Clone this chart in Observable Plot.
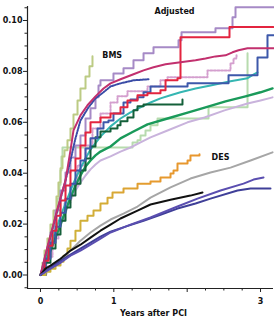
<!DOCTYPE html>
<html>
<head>
<meta charset="utf-8">
<script src="https://cdn.jsdelivr.net/npm/d3@7"></script>
<script src="https://cdn.jsdelivr.net/npm/@observablehq/plot@0.6"></script>
<style>
  html, body { margin: 0; padding: 0; background: #fff; }
  #chart svg { display: block; }
</style>
</head>
<body>
<div id="chart"></div>
<script>
// Cumulative event rate curves: [years after PCI, rate]
const olive = [[0,0],[0.027,0.0048],[0.055,0.0096],[0.095,0.0143],[0.136,0.0198],[0.177,0.0253],[0.218,0.0308],[0.245,0.0363],[0.273,0.0419],[0.30,0.0466],[0.327,0.049],[0.368,0.0529],[0.409,0.0576],[0.45,0.0631],[0.505,0.0686],[0.545,0.0733],[0.614,0.078],[0.668,0.082],[0.709,0.086]];
const lavender = [[0,0],[0.068,0.0076],[0.136,0.0167],[0.205,0.0253],[0.273,0.0332],[0.341,0.0403],[0.409,0.0462],[0.477,0.0509],[0.545,0.0548],[0.614,0.0615],[0.682,0.0655],[0.75,0.0698],[0.791,0.0745],[0.818,0.0765],[0.995,0.0792],[1.132,0.0812],[1.268,0.0844],[1.405,0.0871],[1.541,0.0895],[1.882,0.0922],[1.923,0.0954],[2.386,0.097],[2.618,0.1013],[2.659,0.1052],[3.177,0.1052]];
const red = [[0,0],[0.055,0.0056],[0.109,0.0115],[0.164,0.0174],[0.218,0.0233],[0.273,0.0293],[0.341,0.0352],[0.409,0.0411],[0.477,0.0458],[0.545,0.0509],[0.614,0.056],[0.682,0.06],[0.818,0.0619],[0.955,0.0635],[1.091,0.0659],[1.186,0.0686],[1.323,0.0706],[1.459,0.0714],[1.636,0.0726],[1.705,0.0765],[1.868,0.0773],[1.909,0.0934],[2.577,0.0974],[3.177,0.0974]];
const magenta = [[0,0],[0.055,0.0064],[0.109,0.0127],[0.164,0.0186],[0.218,0.0245],[0.273,0.0304],[0.341,0.0371],[0.409,0.049],[0.45,0.0568],[0.545,0.0627],[0.641,0.0667],[0.75,0.0702],[0.859,0.0733],[0.955,0.0753],[1.091,0.0769],[1.268,0.0789],[1.405,0.0804],[1.541,0.0816],[1.705,0.0828],[1.909,0.0836],[2.114,0.0844],[2.25,0.0851],[2.386,0.0859],[2.523,0.0863],[2.618,0.0875],[2.70,0.0883],[2.823,0.0891],[3.177,0.0891]];
const blueDotted = [[0,0],[0.068,0.0076],[0.136,0.0151],[0.205,0.0226],[0.273,0.03],[0.341,0.0371],[0.409,0.045],[0.477,0.0537],[0.545,0.0607],[0.655,0.0659],[0.75,0.0694],[0.859,0.0718],[0.955,0.0741],[1.091,0.0753],[1.268,0.0765],[1.473,0.0769]];
const pinkDotted = [[0,0],[0.082,0.0072],[0.164,0.0143],[0.245,0.0213],[0.327,0.0285],[0.409,0.0352],[0.505,0.043],[0.614,0.0509],[0.709,0.0576],[0.818,0.0635],[0.955,0.0678],[1.05,0.0702],[1.186,0.0722],[1.459,0.0741],[1.636,0.0765],[1.732,0.0777],[2.277,0.0804],[2.591,0.0832],[2.632,0.0851],[2.673,0.0863]];
const blue = [[0,0],[0.068,0.0064],[0.136,0.0127],[0.205,0.019],[0.273,0.0245],[0.341,0.03],[0.409,0.0359],[0.477,0.0411],[0.545,0.045],[0.614,0.0497],[0.682,0.0537],[0.777,0.0576],[0.859,0.06],[0.927,0.0607],[0.995,0.0635],[1.132,0.0678],[1.227,0.069],[1.323,0.0698],[1.405,0.0718],[1.50,0.0741],[2.005,0.0753],[2.564,0.0785],[2.959,0.0855],[3.095,0.0942],[3.177,0.0942]];
const cyan = [[0,0],[0.068,0.0056],[0.136,0.0115],[0.205,0.0174],[0.273,0.023],[0.341,0.0281],[0.409,0.0332],[0.477,0.0379],[0.545,0.0419],[0.614,0.0458],[0.682,0.0493],[0.818,0.0544],[0.955,0.0584],[1.091,0.0615],[1.227,0.0639],[1.364,0.0659],[1.50,0.0678],[1.636,0.0694],[1.773,0.0706],[1.909,0.0718],[2.114,0.0733],[2.318,0.0745],[2.591,0.0761],[2.823,0.0773],[2.89,0.0785],[2.959,0.0796]];
const darkGreen = [[0,0],[0.068,0.0048],[0.136,0.0104],[0.205,0.0159],[0.273,0.0213],[0.341,0.0265],[0.409,0.0312],[0.477,0.0359],[0.545,0.0411],[0.614,0.0458],[0.682,0.0505],[0.75,0.0541],[0.818,0.0564],[0.955,0.0576],[1.05,0.0588],[1.091,0.0604],[1.186,0.0619],[1.268,0.0647],[1.323,0.0663],[1.405,0.067],[1.936,0.069]];
const green = [[0,0],[0.068,0.0044],[0.136,0.0096],[0.205,0.0147],[0.273,0.0198],[0.341,0.0253],[0.409,0.0304],[0.477,0.0352],[0.545,0.0391],[0.614,0.0426],[0.682,0.045],[0.75,0.047],[0.818,0.0485],[0.955,0.0505],[1.091,0.0537],[1.268,0.0564],[1.459,0.0592],[1.732,0.0615],[2.018,0.0639],[2.25,0.0659],[2.523,0.0682],[2.795,0.0702],[3.0,0.0718],[3.164,0.0733]];
const lilac = [[0,0],[0.068,0.0048],[0.136,0.0096],[0.205,0.0143],[0.273,0.0194],[0.341,0.0245],[0.409,0.0293],[0.477,0.0332],[0.545,0.0363],[0.614,0.0391],[0.682,0.0415],[0.75,0.0434],[0.818,0.045],[0.955,0.0466],[1.091,0.0485],[1.227,0.0501],[1.364,0.0521],[1.50,0.0541],[1.732,0.0568],[2.005,0.06],[2.236,0.0619],[2.509,0.0647],[2.823,0.0674],[3.0,0.0686],[3.164,0.0698]];
const paleGreen = [[0,0],[0.041,0.0048],[0.082,0.0096],[0.123,0.0143],[0.164,0.0194],[0.205,0.0245],[0.232,0.03],[0.259,0.0355],[0.273,0.0411],[0.286,0.0466],[0.30,0.0501],[1.255,0.0521],[1.323,0.0529],[1.364,0.0548],[1.432,0.0568],[1.50,0.0588],[1.596,0.0615],[2.291,0.0659],[2.823,0.0871]];
const orange = [[0,0],[0.068,0.0013],[0.136,0.0025],[0.205,0.0037],[0.273,0.0052],[0.314,0.0076],[0.368,0.0104],[0.409,0.0135],[0.477,0.0174],[0.545,0.0213],[0.641,0.0233],[0.723,0.0253],[0.818,0.0281],[0.914,0.0304],[0.982,0.0324],[1.132,0.034],[1.323,0.0359],[1.50,0.0367],[1.636,0.0383],[1.773,0.0399],[1.814,0.0411],[1.868,0.0438],[2.005,0.045],[2.045,0.047],[2.168,0.0474]];
const gray = [[0,0],[0.136,0.0025],[0.273,0.0056],[0.409,0.0096],[0.545,0.0135],[0.682,0.0167],[0.818,0.0194],[0.955,0.0218],[1.132,0.0241],[1.323,0.0269],[1.50,0.0304],[1.773,0.0344],[2.045,0.0379],[2.318,0.0403],[2.591,0.0422],[2.864,0.045],[3.164,0.0482]];
const black = [[0,0],[0.068,0.0025],[0.136,0.0037],[0.273,0.0064],[0.409,0.0096],[0.545,0.0119],[0.682,0.0147],[0.818,0.0174],[0.955,0.0198],[1.091,0.0222],[1.323,0.0253],[1.50,0.0277],[1.773,0.0296],[2.045,0.0312],[2.209,0.0324]];
const indigoA = [[0,0],[0.136,0.0025],[0.273,0.0048],[0.409,0.0076],[0.545,0.0096],[0.682,0.0119],[0.818,0.0143],[0.955,0.0167],[1.091,0.0182],[1.227,0.0198],[1.50,0.0226],[1.868,0.0269],[2.141,0.03],[2.455,0.0332],[2.768,0.0359],[2.905,0.0375],[3.041,0.0383]];
const indigoB = [[0,0],[0.136,0.0029],[0.273,0.0056],[0.409,0.008],[0.545,0.0104],[0.682,0.0127],[0.818,0.0151],[0.955,0.017],[1.159,0.019],[1.405,0.0213],[1.636,0.0237],[1.868,0.0261],[2.114,0.0281],[2.318,0.03],[2.686,0.0332],[2.864,0.034],[3.136,0.034]];

const yMajor = [0, 0.02, 0.04, 0.06, 0.08, 0.10];
const yMinor = [-0.005,0.005,0.01,0.015,0.025,0.03,0.035,0.045,0.05,0.055,0.065,0.07,0.075,0.085,0.09,0.095,0.105];
const xMajor = [0, 1, 2, 3];
const xMinor = [0.25,0.5,0.75,1.25,1.5,1.75,2.25,2.5,2.75];
const xLabels = {0: "0", 1: "1", 2: "", 3: "3"};

const X0 = -0.177, X1 = 3.177, Y0 = -0.0053, Y1 = 0.1055;

const series = [
  {data: paleGreen, color: "#b7dbae", w: 2, curve: "step-after"},
  {data: lilac, color: "#c9b3dc", w: 2, curve: "linear"},
  {data: olive, color: "#bccb84", w: 2, curve: "step-after"},
  {data: lavender, color: "#a68ac6", w: 2, curve: "step-after"},
  {data: pinkDotted, color: "#d49fce", w: 2, dash: "2,1.6", curve: "step-after"},
  {data: cyan, color: "#35b6b2", w: 2, curve: "linear"},
  {data: green, color: "#1a9a5a", w: 2.4, curve: "linear"},
  {data: darkGreen, color: "#14603a", w: 2, curve: "step-after"},
  {data: blue, color: "#3d58aa", w: 2, curve: "step-after"},
  {data: red, color: "#e3243f", w: 2, curve: "step-after"},
  {data: blueDotted, color: "#3a4ca6", w: 2, dash: "1.6,1.2", curve: "linear"},
  {data: magenta, color: "#c2306e", w: 2, curve: "linear"},
  {data: orange, color: "url(#goldOrange)", w: 2, curve: "step-after"},
  {data: gray, color: "#a6a6a6", w: 2, curve: "linear"},
  {data: indigoB, color: "#3f3f98", w: 2, curve: "linear"},
  {data: black, color: "#111111", w: 2, curve: "linear"},
  {data: indigoA, color: "#5a4eb0", w: 2, curve: "linear"}
];

function gradientDefs() {
  const defs = d3.create("svg:defs");
  const g = defs.append("linearGradient").attr("id", "goldOrange")
    .attr("x1", "0").attr("y1", "0").attr("x2", "1").attr("y2", "0");
  g.append("stop").attr("offset", "0%").attr("stop-color", "#c9b43a");
  g.append("stop").attr("offset", "40%").attr("stop-color", "#d4ac36");
  g.append("stop").attr("offset", "70%").attr("stop-color", "#e69a2e");
  g.append("stop").attr("offset", "100%").attr("stop-color", "#e8962e");
  return defs.node();
}

const chart = Plot.plot({
  width: 274,
  height: 323,
  marginLeft: 27,
  marginRight: 1,
  marginTop: 6,
  marginBottom: 35,
  style: {fontFamily: "DejaVu Sans", fontSize: "8px", fontWeight: "bold", background: "#fff", color: "#111"},
  x: {domain: [X0, X1]},
  y: {domain: [Y0, Y1]},
  marks: [
    gradientDefs,
    ...series.map(s => Plot.line(s.data, {
      x: d => d[0], y: d => d[1], curve: s.curve,
      stroke: s.color, strokeWidth: s.w, strokeDasharray: s.dash
    })),
    Plot.ruleX([X0], {y1: Y0, y2: Y1, stroke: "#222", strokeWidth: 1.2}),
    Plot.ruleY([Y0], {stroke: "#222", strokeWidth: 1.2}),
    Plot.axisY({ticks: yMajor, tickSize: 4, tickPadding: 1, tickFormat: d3.format(".2f"), label: null, stroke: "#222"}),
    Plot.axisY({ticks: yMinor, tickSize: 2.5, tickFormat: () => "", label: null, stroke: "#222"}),
    Plot.axisX({ticks: xMajor, tickSize: 4, tickPadding: 6, tickFormat: d => xLabels[d], label: null, stroke: "#222"}),
    Plot.axisX({ticks: xMinor, tickSize: 2.5, tickFormat: () => "", label: null, stroke: "#222"}),
    Plot.text(["Years after PCI"], {frameAnchor: "bottom", dy: 25, dx: 3, lineAnchor: "middle", fill: "#111"}),
    Plot.text(["Adjusted"], {x: 1.827, y: 0.1037, lineAnchor: "middle", fill: "#111"}),
    Plot.text(["BMS"], {x: 0.978, y: 0.0863, lineAnchor: "middle", fill: "#111"}),
    Plot.text(["DES"], {x: 2.455, y: 0.0462, lineAnchor: "middle", fill: "#111"})
  ]
});
document.getElementById("chart").appendChild(chart);
</script>
</body>
</html>
